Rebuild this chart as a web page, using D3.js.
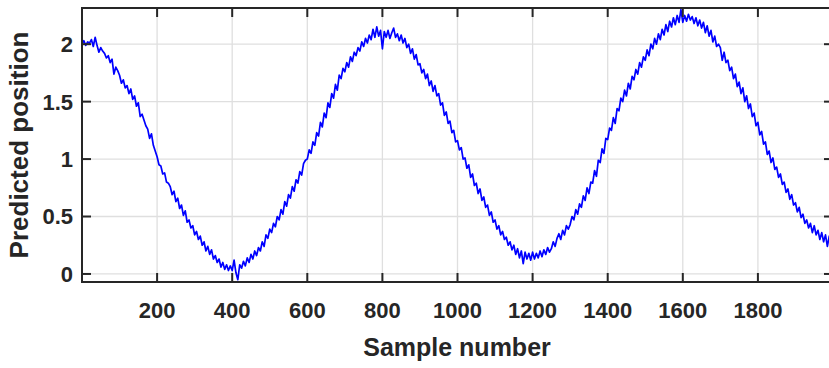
<!DOCTYPE html>
<html>
<head>
<meta charset="utf-8">
<script src="https://cdn.jsdelivr.net/npm/d3@7"></script>
<style>
  body { margin: 0; background: #fff; }
  text { font-family: "Liberation Sans", Arial, sans-serif; font-weight: bold; fill: #262626; }
</style>
</head>
<body>
<div id="chart"></div>
<script>
// predicted position, one value every 5 samples (rows of 100 samples)
const sampleStep = 5;
const predicted = [
  2.00, 2.03, 1.99, 2.02, 2.01, 2.04, 1.98, 2.06, 1.99, 1.93, 1.97, 1.94, 1.92, 1.88, 1.90, 1.84, 1.87, 1.74, 1.80, 1.77,
  1.73, 1.66, 1.69, 1.62, 1.64, 1.57, 1.61, 1.52, 1.55, 1.46, 1.49, 1.37, 1.39, 1.34, 1.29, 1.26, 1.18, 1.22, 1.12, 1.07,
  1.02, 0.95, 0.94, 0.87, 0.88, 0.80, 0.79, 0.76, 0.69, 0.72, 0.63, 0.66, 0.57, 0.60, 0.51, 0.55, 0.45, 0.47, 0.40, 0.42,
  0.34, 0.37, 0.30, 0.33, 0.25, 0.28, 0.20, 0.24, 0.17, 0.21, 0.13, 0.16, 0.10, 0.13, 0.06, 0.10, 0.04, 0.08, 0.03, 0.07,
  0.03, 0.12, 0.01, -0.05, 0.08, 0.05, 0.11, 0.07, 0.14, 0.10, 0.17, 0.13, 0.20, 0.16, 0.23, 0.20, 0.28, 0.24, 0.34, 0.31,
  0.39, 0.36, 0.44, 0.41, 0.50, 0.47, 0.56, 0.52, 0.63, 0.59, 0.69, 0.66, 0.76, 0.72, 0.82, 0.79, 0.89, 0.86, 0.96, 0.99,
  1.00, 1.08, 1.05, 1.15, 1.12, 1.23, 1.20, 1.32, 1.28, 1.40, 1.36, 1.49, 1.45, 1.57, 1.53, 1.65, 1.60, 1.73, 1.70, 1.79,
  1.76, 1.84, 1.80, 1.89, 1.85, 1.93, 1.90, 1.97, 1.94, 2.02, 1.98, 2.05, 2.01, 2.08, 2.04, 2.13, 2.06, 2.15, 2.07, 2.12,
  1.96, 2.11, 2.06, 2.12, 2.05, 2.10, 2.14, 2.06, 2.09, 2.03, 2.08, 2.01, 2.05, 1.97, 2.00, 1.92, 1.96, 1.87, 1.91, 1.82,
  1.83, 1.75, 1.78, 1.70, 1.74, 1.64, 1.68, 1.59, 1.64, 1.55, 1.57, 1.47, 1.49, 1.38, 1.41, 1.31, 1.33, 1.23, 1.25, 1.15,
  1.16, 1.08, 1.10, 1.00, 1.01, 0.92, 0.95, 0.84, 0.87, 0.77, 0.79, 0.70, 0.74, 0.64, 0.67, 0.58, 0.60, 0.51, 0.54, 0.45,
  0.47, 0.39, 0.42, 0.34, 0.37, 0.30, 0.32, 0.25, 0.28, 0.21, 0.25, 0.17, 0.22, 0.14, 0.20, 0.09, 0.19, 0.13, 0.18, 0.12,
  0.19, 0.13, 0.18, 0.14, 0.20, 0.15, 0.21, 0.17, 0.23, 0.19, 0.22, 0.28, 0.24, 0.31, 0.35, 0.30, 0.38, 0.34, 0.42, 0.39,
  0.43, 0.50, 0.47, 0.56, 0.52, 0.61, 0.58, 0.68, 0.64, 0.75, 0.70, 0.80, 0.79, 0.90, 0.85, 0.99, 0.97, 1.09, 1.05, 1.18,
  1.17, 1.27, 1.25, 1.36, 1.31, 1.44, 1.42, 1.53, 1.50, 1.60, 1.55, 1.66, 1.61, 1.72, 1.69, 1.78, 1.74, 1.84, 1.80, 1.89,
  1.86, 1.95, 1.90, 2.00, 1.96, 2.05, 2.00, 2.09, 2.04, 2.13, 2.08, 2.17, 2.11, 2.20, 2.15, 2.23, 2.17, 2.25, 2.19, 2.30,
  2.19, 2.25, 2.20, 2.26, 2.21, 2.24, 2.18, 2.23, 2.16, 2.21, 2.14, 2.19, 2.10, 2.16, 2.07, 2.12, 2.02, 2.07, 1.98, 2.00,
  1.97, 1.86, 1.93, 1.84, 1.86, 1.77, 1.80, 1.70, 1.74, 1.63, 1.67, 1.57, 1.62, 1.50, 1.55, 1.44, 1.48, 1.37, 1.40, 1.29,
  1.32, 1.21, 1.24, 1.13, 1.15, 1.04, 1.07, 0.97, 1.01, 0.91, 0.93, 0.84, 0.87, 0.78, 0.80, 0.71, 0.74, 0.65, 0.69, 0.60,
  0.62, 0.54, 0.58, 0.49, 0.52, 0.44, 0.47, 0.40, 0.44, 0.36, 0.42, 0.34, 0.38, 0.30, 0.36, 0.28, 0.34, 0.24, 0.33, 0.29
];

const xTicks = [200, 400, 600, 800, 1000, 1200, 1400, 1600, 1800];
const yTicks = [0, 0.5, 1, 1.5, 2];
const xDomain = [0, 2000];
const yDomain = [-0.07, 2.315];

const width = 829, height = 368;
const plot = { left: 82, top: 8, right: 833, bottom: 282 };

const svg = d3.select("#chart")
  .append("svg")
  .attr("width", width)
  .attr("height", height);

const x = d3.scaleLinear().domain(xDomain).range([plot.left, plot.right]);
const y = d3.scaleLinear().domain(yDomain).range([plot.bottom, plot.top]);

// grid
svg.append("g").selectAll("line")
  .data(xTicks)
  .enter().append("line")
  .attr("x1", d => x(d)).attr("x2", d => x(d))
  .attr("y1", plot.top).attr("y2", plot.bottom)
  .style("stroke", "#dfdfdf").style("stroke-width", 1.3);

svg.append("g").selectAll("line")
  .data(yTicks)
  .enter().append("line")
  .attr("x1", plot.left).attr("x2", plot.right)
  .attr("y1", d => y(d)).attr("y2", d => y(d))
  .style("stroke", "#dfdfdf").style("stroke-width", 1.3);

// data line
svg.append("clipPath").attr("id", "clip")
  .append("rect")
  .attr("x", plot.left).attr("y", plot.top)
  .attr("width", plot.right - plot.left).attr("height", plot.bottom - plot.top);

const line = d3.line()
  .x((d, i) => x(i * sampleStep))
  .y(d => y(d));

svg.append("path")
  .datum(predicted)
  .attr("clip-path", "url(#clip)")
  .attr("d", line)
  .style("fill", "none")
  .style("stroke", "#0000ff")
  .style("stroke-width", 1.7)
  .style("stroke-linejoin", "round");

// box
svg.append("rect")
  .attr("x", plot.left).attr("y", plot.top)
  .attr("width", plot.right - plot.left).attr("height", plot.bottom - plot.top)
  .style("fill", "none").style("stroke", "#262626").style("stroke-width", 2);

// ticks (inward, on all four sides)
const tickLen = 9;
xTicks.forEach(t => {
  svg.append("line")
    .attr("x1", x(t)).attr("x2", x(t))
    .attr("y1", plot.bottom).attr("y2", plot.bottom - tickLen)
    .style("stroke", "#262626").style("stroke-width", 2);
  svg.append("line")
    .attr("x1", x(t)).attr("x2", x(t))
    .attr("y1", plot.top).attr("y2", plot.top + tickLen)
    .style("stroke", "#262626").style("stroke-width", 2);
  svg.append("text")
    .attr("x", x(t))
    .attr("y", 318)
    .style("text-anchor", "middle")
    .style("font-size", "22px")
    .text(t);
});

yTicks.forEach(t => {
  svg.append("line")
    .attr("x1", plot.left).attr("x2", plot.left + tickLen)
    .attr("y1", y(t)).attr("y2", y(t))
    .style("stroke", "#262626").style("stroke-width", 2);
  svg.append("line")
    .attr("x1", plot.right).attr("x2", plot.right - tickLen)
    .attr("y1", y(t)).attr("y2", y(t))
    .style("stroke", "#262626").style("stroke-width", 2);
  svg.append("text")
    .attr("x", 73)
    .attr("y", y(t))
    .attr("dy", "0.36em")
    .style("text-anchor", "end")
    .style("font-size", "22px")
    .text(t);
});

// axis titles
svg.append("text")
  .attr("x", 457)
  .attr("y", 356)
  .style("text-anchor", "middle")
  .style("font-size", "25px")
  .text("Sample number");

svg.append("text")
  .attr("transform", "translate(28,145) rotate(-90)")
  .style("text-anchor", "middle")
  .style("font-size", "26px")
  .text("Predicted position");
</script>
</body>
</html>
